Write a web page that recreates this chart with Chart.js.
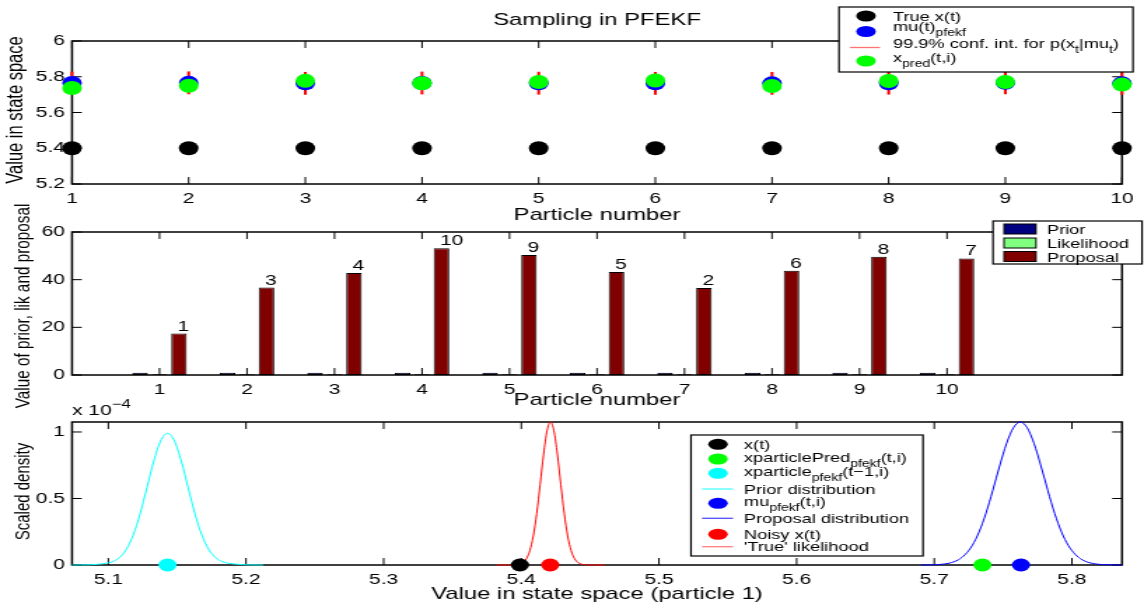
<!DOCTYPE html>
<html>
<head>
<meta charset="utf-8">
<title>Sampling in PFEKF</title>
<script src="https://cdn.jsdelivr.net/npm/chart.js@4.4.1/dist/chart.umd.min.js"></script>
<style>
  html, body { margin: 0; padding: 0; background: #fff; overflow: hidden; }
  #fig { position: relative; width: 1144px; height: 605px; }
  #fig canvas { position: absolute; left: 0; top: 0; width: 817px; height: 605px; transform-origin: 0 0; }
</style>
</head>
<body>
<div id="fig">
  <canvas id="top-panel" width="817" height="605"></canvas>
  <canvas id="mid-panel" width="817" height="605"></canvas>
  <canvas id="bot-panel" width="817" height="605"></canvas>
</div>
<script>
// ---- data: particle states ----
const particles = [1, 2, 3, 4, 5, 6, 7, 8, 9, 10];
const trueX    = [5.4, 5.4, 5.4, 5.4, 5.4, 5.4, 5.4, 5.4, 5.4, 5.4];
const muPfekf  = [5.765, 5.766, 5.763, 5.765, 5.764, 5.763, 5.763, 5.764, 5.766, 5.763];
const xPred    = [5.737, 5.750, 5.777, 5.764, 5.771, 5.779, 5.748, 5.776, 5.771, 5.756];
const confLow  = [5.703, 5.704, 5.701, 5.703, 5.702, 5.701, 5.701, 5.702, 5.704, 5.701];
const confHigh = [5.827, 5.828, 5.825, 5.827, 5.826, 5.825, 5.825, 5.826, 5.828, 5.825];
const stateTicks = [5.2, 5.4, 5.6, 5.8, 6];

// ---- data: prior / likelihood / proposal per particle ----
const priorVals    = [0.9, 0.9, 0.9, 0.9, 0.9, 0.9, 0.9, 0.9, 0.9, 0.9];
const likVals      = [0.3, 0.3, 0.3, 0.3, 0.3, 0.3, 0.3, 0.3, 0.3, 0.3];
const proposalVals = [17.4, 36.7, 42.8, 53.2, 50.4, 43.2, 36.5, 43.7, 49.6, 48.9];
const proposalRank = ['1', '3', '4', '10', '9', '5', '2', '6', '8', '7'];
const weightTicks  = [0, 20, 40, 60];

// ---- data: densities for particle 1 (units of 1e-4) ----
const priorX = [5.0736, 5.083, 5.093, 5.103, 5.108, 5.113, 5.118, 5.123, 5.128, 5.133, 5.138, 5.143,
                5.148, 5.153, 5.158, 5.163, 5.168, 5.173, 5.178, 5.183, 5.193, 5.203, 5.2125];
const priorY = [0.000, 0.001, 0.006, 0.025, 0.055, 0.116, 0.224, 0.382, 0.580, 0.781, 0.933, 0.990,
                0.933, 0.781, 0.580, 0.382, 0.224, 0.116, 0.055, 0.025, 0.006, 0.001, 0.000];
const likX   = [5.3818, 5.3912, 5.3962, 5.4012, 5.4037, 5.4062, 5.4087, 5.4112, 5.4137, 5.4162, 5.4187, 5.4212,
                5.4237, 5.4262, 5.4287, 5.4312, 5.4337, 5.4362, 5.4387, 5.4412, 5.4462, 5.4512, 5.4606];
const likY   = [0.000, 0.000, 0.002, 0.018, 0.047, 0.108, 0.218, 0.387, 0.606, 0.833, 1.009, 1.075,
                1.009, 0.833, 0.606, 0.387, 0.218, 0.108, 0.047, 0.018, 0.002, 0.000, 0.000];
const propX  = [5.6903, 5.7025, 5.7125, 5.7175, 5.7225, 5.7275, 5.7325, 5.7375, 5.7425, 5.7475, 5.7525, 5.7575, 5.7625,
                5.7675, 5.7725, 5.7775, 5.7825, 5.7875, 5.7925, 5.7975, 5.8025, 5.8075, 5.8125, 5.8225, 5.8364];
const propY  = [0.000, 0.003, 0.018, 0.039, 0.079, 0.145, 0.247, 0.387, 0.560, 0.745, 0.913, 1.032, 1.075,
                1.032, 0.913, 0.745, 0.560, 0.387, 0.247, 0.145, 0.079, 0.039, 0.018, 0.003, 0.000];
const p1TrueX = 5.399, p1Pred = 5.735, p1Prev = 5.143, p1Mu = 5.763, p1Noisy = 5.421;
const densXTicks = [5.1, 5.2, 5.3, 5.4, 5.5, 5.6, 5.7, 5.8];
const densYTicks = [0, 0.5, 1];

// ---- figure geometry: canvases are drawn narrow and stretched horizontally ----
const LW = 817, LH = 605;
const SX = 1144 / LW;
const sx = v => v / SX;
const FONT = '"Liberation Sans", Arial, Helvetica, sans-serif';
const AX_L = sx(72), AX_R = sx(1122);
const Y_AXIS_W = 40, X_AXIS_H = 30;   // room kept for tick labels

document.querySelectorAll('#fig canvas').forEach(c => { c.style.transform = `scaleX(${SX})`; });

const fmt = v => String(Math.round(v * 1000) / 1000);

function axis(min, max, list, horizontal) {
  return {
    type: 'linear', min, max, offset: false,
    grid: { display: false, drawTicks: false },
    border: { display: false },
    ticks: { autoSkip: false, maxRotation: 0, minRotation: 0, padding: horizontal ? 6 : 5,
             color: '#000', font: { family: FONT, size: 15 }, callback: fmt },
    afterBuildTicks: s => { s.ticks = list.map(value => ({ value })); },
    afterFit: s => { if (horizontal) s.height = X_AXIS_H; else s.width = Y_AXIS_W; }
  };
}

function panelOptions(top, bottom, x, y) {
  return {
    responsive: false, animation: false, devicePixelRatio: 1, events: [],
    layout: { autoPadding: false,
              padding: { left: AX_L - Y_AXIS_W, right: LW - AX_R, top, bottom: LH - bottom - X_AXIS_H } },
    plugins: { legend: { display: false }, tooltip: { enabled: false } },
    scales: { x, y }
  };
}

// box + inward ticks on all four sides
const axesFrame = {
  id: 'axesFrame',
  beforeDatasetsDraw(chart) {
    const { ctx, chartArea: a, scales: { x, y } } = chart;
    const TL = 7;
    ctx.save();
    ctx.strokeStyle = '#000';
    ctx.lineWidth = 1;
    ctx.beginPath();
    x.ticks.forEach(t => {
      const p = x.getPixelForValue(t.value);
      ctx.moveTo(p, a.bottom); ctx.lineTo(p, a.bottom - TL);
      ctx.moveTo(p, a.top); ctx.lineTo(p, a.top + TL);
    });
    y.ticks.forEach(t => {
      const p = y.getPixelForValue(t.value);
      ctx.moveTo(a.left, p); ctx.lineTo(a.left + TL, p);
      ctx.moveTo(a.right, p); ctx.lineTo(a.right - TL, p);
    });
    ctx.stroke();
    ctx.lineWidth = 1.5;
    ctx.strokeRect(a.left, a.top, a.right - a.left, a.bottom - a.top);
    ctx.restore();
  }
};

function richText(ctx, x, y, parts, size) {
  let cx = x;
  parts.forEach(p => {
    const [text, mode] = Array.isArray(p) ? p : [p];
    const fs = mode ? Math.round(size * 0.78) : size;
    ctx.font = `${fs}px ${FONT}`;
    const dy = mode === 'sub' ? size * 0.42 : mode === 'sup' ? -size * 0.5 : 0;
    ctx.fillText(text, cx, y + dy);
    cx += ctx.measureText(text).width;
  });
}

function drawLegend(ctx, box, rows, o) {
  ctx.save();
  ctx.fillStyle = '#fff';
  ctx.fillRect(box[0], box[1], box[2] - box[0], box[3] - box[1]);
  ctx.strokeStyle = '#000';
  ctx.lineWidth = 1.2;
  ctx.strokeRect(box[0], box[1], box[2] - box[0], box[3] - box[1]);
  rows.forEach(r => {
    if (r.kind === 'dot') {
      ctx.beginPath();
      ctx.ellipse(o.markX, r.y, 7, 5.5, 0, 0, Math.PI * 2);
      ctx.fillStyle = r.color;
      ctx.fill();
    } else if (r.kind === 'line') {
      ctx.strokeStyle = r.color;
      ctx.lineWidth = 1.3;
      ctx.beginPath();
      ctx.moveTo(o.lineX0, r.y); ctx.lineTo(o.lineX1, r.y);
      ctx.stroke();
    } else if (r.kind === 'patch') {
      ctx.fillStyle = r.color;
      ctx.fillRect(o.lineX0, r.y - 5, o.lineX1 - o.lineX0, 10);
      ctx.strokeStyle = '#000';
      ctx.lineWidth = 1;
      ctx.strokeRect(o.lineX0, r.y - 5, o.lineX1 - o.lineX0, 10);
    }
    ctx.fillStyle = '#000';
    ctx.textAlign = 'left';
    ctx.textBaseline = 'alphabetic';
    richText(ctx, o.textX, r.base, r.label, o.size);
  });
  ctx.restore();
}

function xTitle(ctx, text, base, size) {
  ctx.save();
  ctx.fillStyle = '#000';
  ctx.font = `${size}px ${FONT}`;
  ctx.textAlign = 'center';
  ctx.textBaseline = 'alphabetic';
  ctx.fillText(text, sx(597), base);
  ctx.restore();
}

function yTitle(ctx, text, x, y, size) {
  ctx.save();
  ctx.translate(x, y);
  ctx.rotate(-Math.PI / 2);
  ctx.fillStyle = '#000';
  ctx.font = `${size}px ${FONT}`;
  ctx.textAlign = 'center';
  ctx.textBaseline = 'middle';
  ctx.fillText(text, 0, 0);
  ctx.restore();
}

const pts = (xs, ys) => xs.map((x, i) => ({ x, y: ys[i] }));
const dot = (data, color, r, order) => ({
  type: 'scatter', data, order, clip: false,
  backgroundColor: color, borderColor: color, pointRadius: r, pointBorderWidth: 0
});

// ---- top: states of all particles ----
new Chart(document.getElementById('top-panel'), {
  type: 'scatter',
  data: {
    datasets: [
      dot(pts(particles, xPred), '#00ff00', 7, 0),
      dot(pts(particles, muPfekf), '#0000ff', 7, 1),
      {
        type: 'bar', order: 2, clip: false,
        data: particles.map((p, i) => ({ x: p, y: [confLow[i], confHigh[i]] })),
        backgroundColor: '#ff0000', barThickness: 1.4, borderWidth: 0
      },
      dot(pts(particles, trueX), '#000000', 7, 3)
    ]
  },
  options: panelOptions(41, 184, axis(1, 10, particles, true), axis(5.2, 6, stateTicks, false)),
  plugins: [axesFrame, {
    id: 'topText',
    afterDraw(chart) {
      const ctx = chart.ctx;
      ctx.save();
      ctx.fillStyle = '#000';
      ctx.font = `17px ${FONT}`;
      ctx.textAlign = 'center';
      ctx.fillText('Sampling in PFEKF', sx(597), 25);
      ctx.restore();
      xTitle(ctx, 'Particle number', 219.5, 17);
      yTitle(ctx, 'Value in state space', sx(16.7), 110, 16.5);
      drawLegend(ctx, [sx(839), 7, sx(1133), 72], [
        { kind: 'dot', color: '#000000', y: 16, base: 20.5, label: ['True x(t)'] },
        { kind: 'dot', color: '#0000ff', y: 31.5, base: 31, label: ['mu(t)', ['pfekf', 'sub']] },
        { kind: 'line', color: 'rgba(255,0,0,0.55)', y: 47.5, base: 47.5,
          label: ['99.9% conf. int. for p(x', ['t', 'sub'], '|mu', ['t', 'sub'], ')'] },
        { kind: 'dot', color: '#00ff00', y: 61, base: 61.5, label: ['x', ['pred', 'sub'], '(t,i)'] }
      ], { markX: sx(866), lineX0: sx(850), lineX1: sx(880), textX: sx(893), size: 13 });
    }
  }]
});

// ---- middle: prior, likelihood and proposal per particle ----
const barSet = (label, vals, color) => ({
  label, data: pts(particles, vals), backgroundColor: color,
  borderColor: '#000', borderWidth: 1, borderSkipped: false,
  categoryPercentage: 0.667, barPercentage: 0.8
});

new Chart(document.getElementById('mid-panel'), {
  type: 'bar',
  data: {
    datasets: [
      barSet('Prior', priorVals, '#000080'),
      barSet('Likelihood', likVals, '#80ff80'),
      barSet('Proposal', proposalVals, '#800000')
    ]
  },
  options: panelOptions(232, 375, axis(0, 12, particles, true), axis(0, 60, weightTicks, false)),
  plugins: [axesFrame, {
    id: 'midText',
    afterDatasetsDraw(chart) {
      const ctx = chart.ctx;
      const meta = chart.getDatasetMeta(2);
      ctx.save();
      ctx.fillStyle = '#000';
      ctx.font = `15px ${FONT}`;
      ctx.textAlign = 'left';
      ctx.textBaseline = 'alphabetic';
      meta.data.forEach((bar, i) => ctx.fillText(proposalRank[i], bar.x - 1, bar.y - 3));
      ctx.restore();
    },
    afterDraw(chart) {
      const ctx = chart.ctx;
      xTitle(ctx, 'Particle number', 404.5, 17);
      yTitle(ctx, 'Value of prior, lik and proposal', sx(23), 306, 15.3);
      drawLegend(ctx, [sx(993), 221, sx(1142), 264], [
        { kind: 'patch', color: '#000080', y: 229, base: 234, label: ['Prior'] },
        { kind: 'patch', color: '#80ff80', y: 243, base: 248, label: ['Likelihood'] },
        { kind: 'patch', color: '#800000', y: 256.5, base: 261.5, label: ['Proposal'] }
      ], { lineX0: sx(1004), lineX1: sx(1036), textX: sx(1047), size: 13 });
    }
  }]
});

// ---- bottom: densities for particle 1 ----
const curve = (xs, ys, color, order) => ({
  type: 'scatter', data: pts(xs, ys), order, clip: false, showLine: true,
  borderColor: color, borderWidth: 1, pointRadius: 0, cubicInterpolationMode: 'monotone'
});

new Chart(document.getElementById('bot-panel'), {
  type: 'scatter',
  data: {
    datasets: [
      dot([{ x: p1TrueX, y: 0 }], '#000000', 6.5, 0),
      dot([{ x: p1Pred, y: 0 }], '#00ff00', 6.5, 1),
      dot([{ x: p1Prev, y: 0 }], '#00ffff', 6.5, 2),
      dot([{ x: p1Mu, y: 0 }], '#0000ff', 6.5, 3),
      dot([{ x: p1Noisy, y: 0 }], '#ff0000', 6.5, 4),
      curve(priorX, priorY, '#00ffff', 5),
      curve(propX, propY, '#0000ff', 6),
      curve(likX, likY, '#ff0000', 7)
    ]
  },
  options: panelOptions(422, 565, axis(5.0736, 5.8364, densXTicks, true), axis(0, 1.075, densYTicks, false)),
  plugins: [axesFrame, {
    id: 'botText',
    afterDraw(chart) {
      const ctx = chart.ctx;
      ctx.save();
      ctx.fillStyle = '#000';
      ctx.textAlign = 'left';
      ctx.textBaseline = 'alphabetic';
      richText(ctx, AX_L, 415, ['x 10', ['\u22124', 'sup']], 15);
      ctx.restore();
      xTitle(ctx, 'Value in state space (particle 1)', 598.5, 17);
      yTitle(ctx, 'Scaled density', sx(23), 491.5, 15);
      drawLegend(ctx, [sx(691), 435, sx(923), 556], [
        { kind: 'dot', color: '#000000', y: 444.3, base: 449, label: ['x(t)'] },
        { kind: 'dot', color: '#00ff00', y: 459, base: 462, label: ['xparticlePred', ['pfekf', 'sub'], '(t,i)'] },
        { kind: 'dot', color: '#00ffff', y: 473.3, base: 476, label: ['xparticle', ['pfekf', 'sub'], '(t\u22121,i)'] },
        { kind: 'line', color: 'rgba(0,255,255,0.7)', y: 489, base: 494, label: ['Prior distribution'] },
        { kind: 'dot', color: '#0000ff', y: 503.3, base: 505.5, label: ['mu', ['pfekf', 'sub'], '(t,i)'] },
        { kind: 'line', color: 'rgba(0,0,255,0.7)', y: 518.3, base: 523, label: ['Proposal distribution'] },
        { kind: 'dot', color: '#ff0000', y: 534.3, base: 538.5, label: ['Noisy x(t)'] },
        { kind: 'line', color: 'rgba(255,0,0,0.5)', y: 546.7, base: 551, label: ["'True' likelihood"] }
      ], { markX: sx(718), lineX0: sx(702), lineX1: sx(733), textX: sx(744), size: 13 });
    }
  }]
});
</script>
</body>
</html>
